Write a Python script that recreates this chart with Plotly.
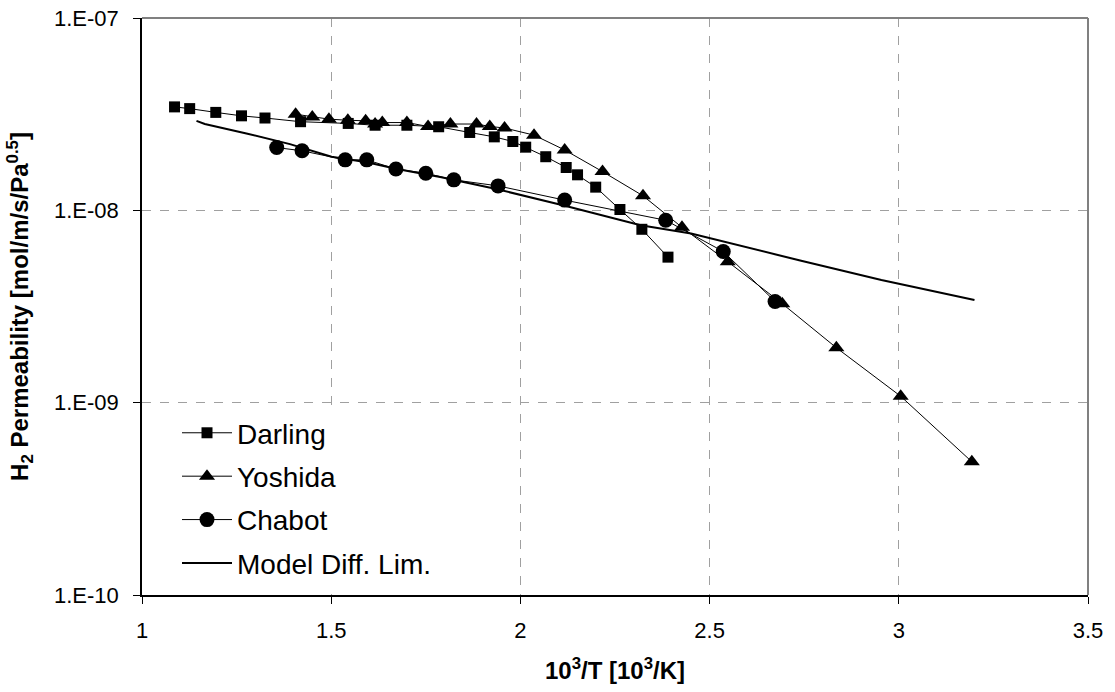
import plotly.graph_objects as go

# Darling
darling_x = [1.086, 1.126, 1.195, 1.263, 1.325, 1.419, 1.545, 1.616, 1.700, 1.784, 1.866,
             1.931, 1.980, 2.014, 2.067, 2.121, 2.151, 2.199, 2.263, 2.321, 2.390]
darling_y = [3.45e-8, 3.38e-8, 3.23e-8, 3.10e-8, 3.02e-8, 2.89e-8, 2.83e-8, 2.77e-8, 2.77e-8,
             2.72e-8, 2.54e-8, 2.41e-8, 2.28e-8, 2.13e-8, 1.90e-8, 1.67e-8, 1.53e-8, 1.32e-8,
             1.01e-8, 7.97e-9, 5.71e-9]

# Yoshida
yoshida_x = [1.406, 1.450, 1.494, 1.544, 1.591, 1.616, 1.635, 1.700, 1.756, 1.815, 1.884, 1.919,
             1.958, 2.036, 2.117, 2.217, 2.324, 2.427, 2.548, 2.692, 2.835, 3.005, 3.193]
yoshida_y = [3.16e-8, 3.06e-8, 2.98e-8, 2.94e-8, 2.92e-8, 2.81e-8, 2.86e-8, 2.86e-8, 2.73e-8,
             2.81e-8, 2.81e-8, 2.73e-8, 2.68e-8, 2.46e-8, 2.06e-8, 1.59e-8, 1.19e-8, 8.16e-9,
             5.41e-9, 3.27e-9, 1.93e-9, 1.08e-9, 4.93e-10]

# Chabot
chabot_x = [1.356, 1.423, 1.537, 1.594, 1.671, 1.750, 1.824, 1.941, 2.117, 2.384, 2.536, 2.673]
chabot_y = [2.12e-8, 2.04e-8, 1.83e-8, 1.83e-8, 1.64e-8, 1.56e-8, 1.44e-8, 1.34e-8, 1.13e-8,
            8.88e-9, 6.11e-9, 3.36e-9]

# Model Diff. Lim.
model_x = [1.144, 1.166, 1.276, 1.391, 1.501, 1.594, 1.674, 1.788, 1.930, 2.115, 2.318, 2.451,
           2.742, 2.954, 3.200]
model_y = [2.92e-8, 2.81e-8, 2.51e-8, 2.21e-8, 1.90e-8, 1.78e-8, 1.64e-8, 1.49e-8, 1.30e-8,
           1.06e-8, 8.36e-9, 7.57e-9, 5.47e-9, 4.34e-9, 3.42e-9]

x_ticks = [1, 1.5, 2, 2.5, 3, 3.5]
y_tickvals = [1e-10, 1e-9, 1e-8, 1e-7]
y_ticktext = ["1.E-10", "1.E-09", "1.E-08", "1.E-07"]

FONT = "Liberation Sans, Arial, sans-serif"

fig = go.Figure()
fig.add_trace(go.Scatter(x=darling_x, y=darling_y, name="Darling", mode="lines+markers",
                         line=dict(color="black", width=1),
                         marker=dict(symbol="square", size=11, color="black"),
                         legendgroup="a"))
fig.add_trace(go.Scatter(x=yoshida_x, y=yoshida_y, name="Yoshida", mode="lines+markers",
                         line=dict(color="black", width=1),
                         marker=dict(symbol="triangle-up", size=14, color="black"),
                         legendgroup="b"))
fig.add_trace(go.Scatter(x=chabot_x, y=chabot_y, name="Chabot", mode="lines+markers",
                         line=dict(color="black", width=1),
                         marker=dict(symbol="circle", size=15, color="black"),
                         legendgroup="c"))
fig.add_trace(go.Scatter(x=model_x, y=model_y, name="Model Diff. Lim.", mode="lines",
                         line=dict(color="black", width=2),
                         legendgroup="d"))

fig.update_layout(
    width=1115, height=692,
    margin=dict(l=142, r=27, t=18, b=97, autoexpand=False),
    paper_bgcolor="white", plot_bgcolor="white",
    font=dict(family=FONT, color="black", size=22),
    showlegend=True,
    legend=dict(x=0.037, y=0.012, xanchor="left", yanchor="bottom",
                bgcolor="white", font=dict(size=28),
                traceorder="grouped", tracegroupgap=4, itemwidth=50),
    shapes=[
        dict(type="line", xref="paper", yref="paper", x0=0, x1=1, y0=1, y1=1,
             line=dict(color="#808080", width=2), layer="above"),
        dict(type="line", xref="paper", yref="paper", x0=1, x1=1, y0=0, y1=1,
             line=dict(color="#808080", width=2), layer="above"),
    ],
)

fig.update_xaxes(
    range=[1, 3.5], tickvals=x_ticks, ticktext=[str(v) for v in x_ticks],
    showline=True, linecolor="black", linewidth=1.5,
    ticks="outside", ticklen=7, tickcolor="black",
    showgrid=True, gridcolor="#a0a0a0", griddash="dash", gridwidth=1,
    zeroline=False, ticklabelstandoff=8, automargin=False,
    title=dict(text="<b>10<sup>3</sup>/T [10<sup>3</sup>/K]</b>", font=dict(size=24), standoff=20),
)
fig.update_yaxes(
    type="log", range=[-10, -7], tickvals=y_tickvals, ticktext=y_ticktext,
    showline=True, linecolor="black", linewidth=1.5,
    ticks="outside", ticklen=7, tickcolor="black",
    showgrid=True, gridcolor="#a0a0a0", griddash="dash", gridwidth=1,
    zeroline=False, ticklabelstandoff=10, automargin=False,
    title=dict(text="<b>H<sub>2</sub> Permeability [mol/m/s/Pa<sup>0.5</sup>]</b>",
               font=dict(size=24), standoff=19),
)

fig.write_html("out.html", config={"displayModeBar": False},
               post_script="document.body.style.margin='0';")
